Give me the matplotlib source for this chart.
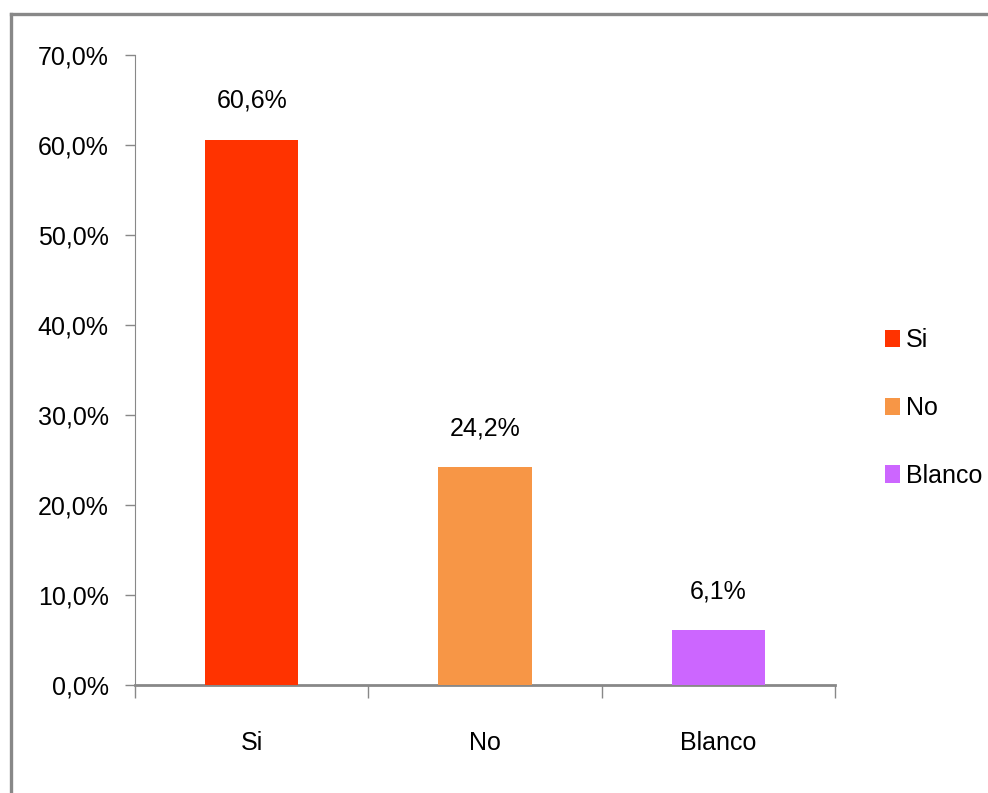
import matplotlib.pyplot as plt
import matplotlib.ticker as mticker
from matplotlib.lines import Line2D
import numpy as np

categories = ["Si", "No", "Blanco"]
values = [60.6, 24.2, 6.1]
colors = ["#FF3300", "#F79646", "#CC66FF"]
yticks = [0, 10, 20, 30, 40, 50, 60, 70]

plt.rcParams['font.family'] = ['Liberation Sans', 'DejaVu Sans']

W, H = 988, 793
fig = plt.figure(figsize=(W / 100, H / 100), dpi=100)
ax = fig.add_axes([135 / W, 1 - 685 / H, 700 / W, 630 / H])

x = np.arange(len(categories))
bars = ax.bar(x, values, width=0.4, color=colors, label=categories, zorder=3)

for xi, v in zip(x, values):
    lbl = f"{v:.1f}%".replace(".", ",")
    ax.text(xi, v + 3.0, lbl, ha="center", va="bottom", fontsize=18)

ax.set_xlim(-0.5, 2.5)
ax.set_ylim(0, 70)
ax.set_yticks(yticks)
ax.yaxis.set_major_formatter(mticker.FuncFormatter(lambda v, p: f"{v:.1f}%".replace(".", ",")))
ax.set_xticks(x)
ax.set_xticklabels(categories)
ax.set_xticks([-0.5, 0.5, 1.5, 2.5], minor=True)
ax.tick_params(axis="x", which="major", length=0, pad=33, labelsize=18)
ax.tick_params(axis="x", which="minor", length=9, width=1, color="#888888", direction="out")
ax.tick_params(axis="y", length=7, width=1, color="#888888", labelsize=18, pad=12)

for s in ["top", "right"]:
    ax.spines[s].set_visible(False)
ax.spines["left"].set_color("#888888")
ax.spines["bottom"].set_color("#888888")
ax.spines["bottom"].set_linewidth(2)

leg = ax.legend(handles=bars.patches, labels=categories, loc="center left",
                bbox_to_anchor=(727 / 700, (685 - 408) / 630),
                frameon=False, fontsize=18, handlelength=0.6, handleheight=0.7,
                handletextpad=0.25, labelspacing=1.75)

# outer frame
fx = 10.5 / W
fy = 1 - 14 / H
fig.add_artist(Line2D([fx, fx], [0, fy], color="#888888", lw=2.4, transform=fig.transFigure))
fig.add_artist(Line2D([fx, 1], [fy, fy], color="#888888", lw=2.4, transform=fig.transFigure))

fig.savefig("out.png", dpi=100)
